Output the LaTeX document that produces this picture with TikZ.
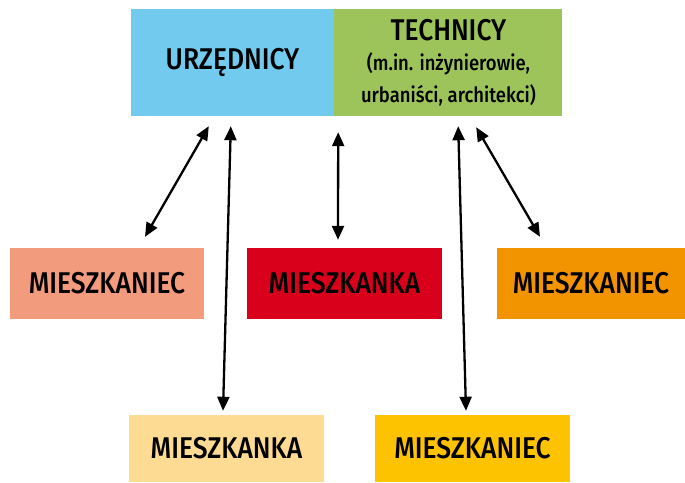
\documentclass[tikz,border=0pt]{standalone}
\usepackage{fontspec}
\setmainfont{Fira Sans}[FakeStretch=0.88, UprightFont={* Medium}]
\usetikzlibrary{arrows.meta, positioning, calc}
\definecolor{urzblue}{HTML}{72CBEE}
\definecolor{techgreen}{HTML}{9DC45A}
\definecolor{salmon}{HTML}{F29B7D}
\definecolor{mred}{HTML}{D9001B}
\definecolor{morange}{HTML}{F29400}
\definecolor{lightyel}{HTML}{FDDB92}
\definecolor{myel}{HTML}{FDC300}
\tikzset{
  group/.style={rectangle, minimum height=107pt, inner sep=0pt, text centered, align=center, font=\fontsize{30}{32}\selectfont},
  person/.style={rectangle, minimum width=195pt, minimum height=71pt, inner sep=0pt, text centered, font=\fontsize{30}{32}\selectfont},
  biarrow/.style={line width=2.3pt, {Triangle[length=14pt,width=12pt]}-{Triangle[length=14pt,width=12pt]}}
}
\begin{document}
\begin{tikzpicture}[x=1pt, y=-1pt]
  \useasboundingbox (0,0) rectangle (685,482);

  \node (urz) [group, fill=urzblue, minimum width=203pt] at (232.5,62.5) {URZĘDNICY};
  \node (tech) [group, fill=techgreen, minimum width=228pt, right=0pt of urz] {TECHNICY\\[-2pt]{\fontsize{21}{26}\selectfont (m.in. inżynierowie,}\\{\fontsize{21}{26}\selectfont urbaniści, architekci)}};
  \node (m1) [person, fill=salmon, minimum width=194pt] at (107,283.5) {MIESZKANIEC};
  \node (m2) [person, fill=mred] at (344.5,283.5) {MIESZKANKA};
  \node (m3) [person, fill=morange, minimum width=188pt] at (591,283.5) {MIESZKANIEC};
  \node (m4) [person, fill=lightyel, minimum height=67pt] at (226.5,448.5) {MIESZKANKA};
  \node (m5) [person, fill=myel, minimum height=67pt] at (472.5,448.5) {MIESZKANIEC};

  \draw [biarrow] ($(urz.south west)+(78,10)$) -- ($(m1.north)+(38,-11)$);
  \draw [biarrow] ($(urz.south west)+(100,10)$) -- ($(m4.north)+(-3.5,-4)$);
  \draw [biarrow] ($(urz.south east)+(4,16)$) -- ($(m2.north)+(-6.5,-8)$);
  \draw [biarrow] ($(tech.south west)+(124,10)$) -- ($(m5.north)+(-6.5,-4)$);
  \draw [biarrow] ($(tech.south west)+(142,11)$) -- ($(m3.north)+(-51,-11)$);

\end{tikzpicture}
\end{document}
